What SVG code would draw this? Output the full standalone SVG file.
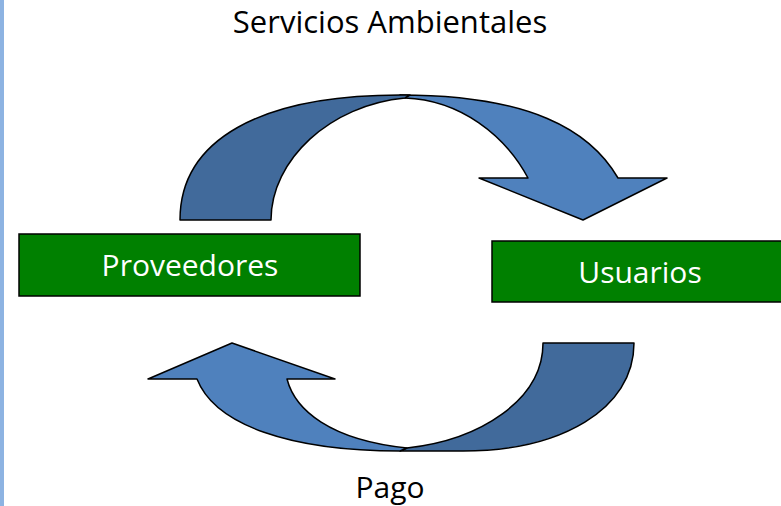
<svg xmlns="http://www.w3.org/2000/svg" width="781" height="506" viewBox="0 0 781 506">
<style>
.t{font-family:"Open Sans","Liberation Sans",sans-serif;font-size:30px;text-anchor:middle}
.box{fill:#008000;stroke:#000;stroke-width:1.5}
.dark{fill:#416A9B;stroke:#000;stroke-width:1.5;stroke-linejoin:round}
.light{fill:#4F81BD;stroke:#000;stroke-width:1.5;stroke-linejoin:round}
</style>
<rect width="781" height="506" fill="#fff"/>
<rect x="0" y="0" width="4" height="506" fill="#8DB3E2"/>
<text class="t" x="390" y="33" fill="#000" style="font-size:31px">Servicios Ambientales</text>
<g id="connectors">
<g id="arrow-servicios">
<path class="light" d="M400,95 C530,95 590,130 618,178 L667,178 L583,220 L479,178 L528,178 C505,135 460,100 405,98 Z"/>
<path class="dark" d="M180,220 C180,140 260,95 400,95 L410,95 L405,98 C330,105 271,160 271,220 Z"/>
</g>
<g id="arrow-pago">
<path class="dark" d="M634,343 C634,410 560,451 463,451 L400,451 L407,448 C480,440 543,400 543,343 Z"/>
<path class="light" d="M197,379 C215,425 290,451 400,451 L407,448 C330,440 295,410 287,379 L335,379 L232,343 L148,379 Z"/>
</g>
</g>
<g id="node-proveedores">
<rect class="box" x="19" y="234" width="341" height="62"/>
<text class="t" x="190" y="276" fill="#fff">Proveedores</text>
</g>
<g id="node-usuarios">
<rect class="box" x="492" y="241" width="300" height="61"/>
<text class="t" x="640" y="283" fill="#fff">Usuarios</text>
</g>
<text class="t" x="390" y="498" fill="#000">Pago</text>
</svg>
